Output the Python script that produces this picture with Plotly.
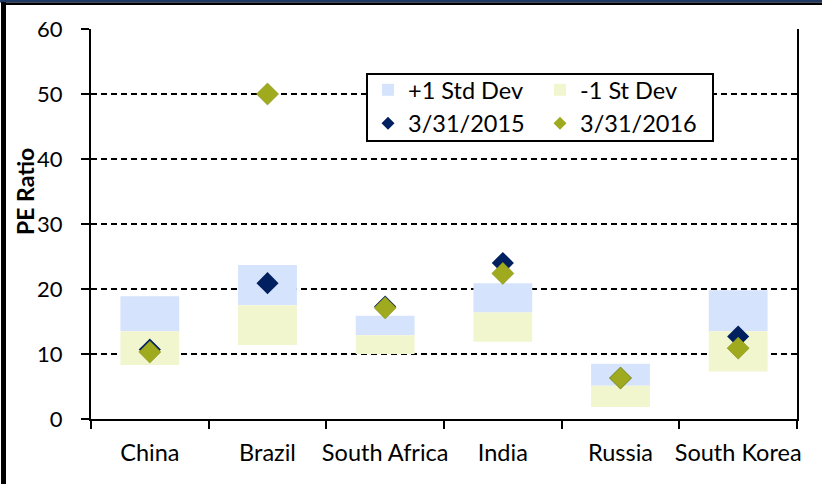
import plotly.graph_objects as go

categories = ["China", "Brazil", "South Africa", "India", "Russia", "South Korea"]
minus_std = [8.3, 11.4, 10.0, 11.9, 1.85, 7.3]   # bottom of -1 St Dev band
mean_pe = [13.5, 17.5, 12.9, 16.4, 5.1, 13.5]    # boundary between bands
plus_std = [18.9, 23.7, 15.9, 20.9, 8.5, 19.8]   # top of +1 Std Dev band
pe_2015 = [10.7, 20.9, 17.3, 24.0, 6.3, 12.7]
pe_2016 = [10.3, 50.0, 17.1, 22.4, 6.3, 10.9]
y_ticks = [0, 10, 20, 30, 40, 50, 60]

FONT = "Lato, Carlito, Calibri, sans-serif"
W, H = 822, 484
ML, MR, MT, MB = 91, 25, 29, 65
PW = W - ML - MR
PH = H - MT - MB

BLUE = "#D6E3FC"
YELLOW = "#F2F6CE"
NAVY = "#002060"
OLIVE = "#9FAA1E"


def px_x(p):
    return (p - ML) / PW


def px_y(p):
    return (H - MB - p) / PH


fig = go.Figure()
fig.add_trace(go.Bar(
    x=categories, y=[p - m for p, m in zip(plus_std, mean_pe)], base=mean_pe,
    name="+1 Std Dev", marker=dict(color=BLUE, line=dict(width=0)), width=0.5,
    legend="legend",
))
fig.add_trace(go.Bar(
    x=categories, y=[m - l for l, m in zip(minus_std, mean_pe)], base=minus_std,
    name="-1 St Dev", marker=dict(color=YELLOW, line=dict(width=0)), width=0.5,
    legend="legend2",
))
fig.add_trace(go.Scatter(
    x=categories, y=pe_2015, mode="markers", name="3/31/2015", showlegend=False,
    marker=dict(symbol="diamond", size=17, color=NAVY, line=dict(width=0)),
))
fig.add_trace(go.Scatter(
    x=categories, y=pe_2016, mode="markers", name="3/31/2016", showlegend=False,
    marker=dict(symbol="diamond", size=17, color=OLIVE, line=dict(width=0.5, color="#7F8A10")),
))
# legend-only entries with smaller diamond glyphs
fig.add_trace(go.Scatter(
    x=[None], y=[None], mode="markers", name="3/31/2015", legend="legend",
    marker=dict(symbol="diamond", size=10, color=NAVY, line=dict(width=0)),
))
fig.add_trace(go.Scatter(
    x=[None], y=[None], mode="markers", name="3/31/2016", legend="legend2",
    marker=dict(symbol="diamond", size=10, color=OLIVE, line=dict(width=0)),
))

shapes = [
    dict(type="rect", xref="paper", yref="paper", x0=px_x(0), x1=px_x(W), y0=px_y(0), y1=px_y(2.4),
         fillcolor="#1F3864", line=dict(width=0), layer="above"),
    dict(type="rect", xref="paper", yref="paper", x0=px_x(1), x1=px_x(W), y0=px_y(2.4), y1=px_y(5),
         fillcolor="#000000", line=dict(width=0), layer="above"),
    dict(type="rect", xref="paper", yref="paper", x0=px_x(1), x1=px_x(6), y0=px_y(2), y1=px_y(H),
         fillcolor="#000000", line=dict(width=0), layer="above"),
    # legend box
    dict(type="rect", xref="paper", yref="paper", x0=px_x(367), x1=px_x(713), y0=px_y(74), y1=px_y(141),
         fillcolor="white", line=dict(width=2, color="#000000"), layer="above"),
]

legend_common = dict(
    orientation="v", xanchor="left", yanchor="top",
    bgcolor="rgba(0,0,0,0)", borderwidth=0,
    font=dict(family=FONT, size=23.5, color="#000000"), traceorder="normal",
    itemclick=False, itemdoubleclick=False, tracegroupgap=0,
)

fig.update_layout(
    width=W, height=H,
    margin=dict(l=ML, r=MR, t=MT, b=MB, pad=0, autoexpand=False),
    paper_bgcolor="white", plot_bgcolor="white",
    barmode="overlay",
    font=dict(family=FONT, size=22, color="#000000"),
    showlegend=True,
    legend=dict(x=px_x(368), y=px_y(68), **legend_common),
    legend2=dict(x=px_x(540), y=px_y(68), **legend_common),
    shapes=shapes,
    annotations=[dict(
        text="<b>PE Ratio</b>", textangle=-90, xref="paper", yref="paper",
        x=px_x(25), y=px_y(192), xanchor="center", yanchor="middle", showarrow=False,
        font=dict(family=FONT, size=23, color="#000000"),
    )],
    xaxis=dict(
        type="category", categoryorder="array", categoryarray=categories,
        range=[-0.5, 5.5], showline=True, linecolor="#000000", linewidth=2,
        ticks="outside", tickson="boundaries", ticklen=8, tickwidth=2, tickcolor="#000000",
        showgrid=False, ticklabelstandoff=12, tickfont=dict(size=23.5), tickangle=0,
        automargin=False,
    ),
    yaxis=dict(
        range=[0, 60], tickvals=y_ticks, showline=True, mirror=True, linecolor="#000000", linewidth=2,
        ticks="outside", ticklen=8, tickwidth=2, tickcolor="#000000",
        showgrid=True, gridcolor="#000000", gridwidth=1.6, griddash="6px,4px",
        zeroline=False, ticklabelstandoff=14, tickfont=dict(size=22),
        automargin=False,
    ),
)

fig.write_html(
    "out.html",
    config={"displayModeBar": False},
    post_script="document.body.style.margin='0';document.body.style.overflow='hidden';",
)
